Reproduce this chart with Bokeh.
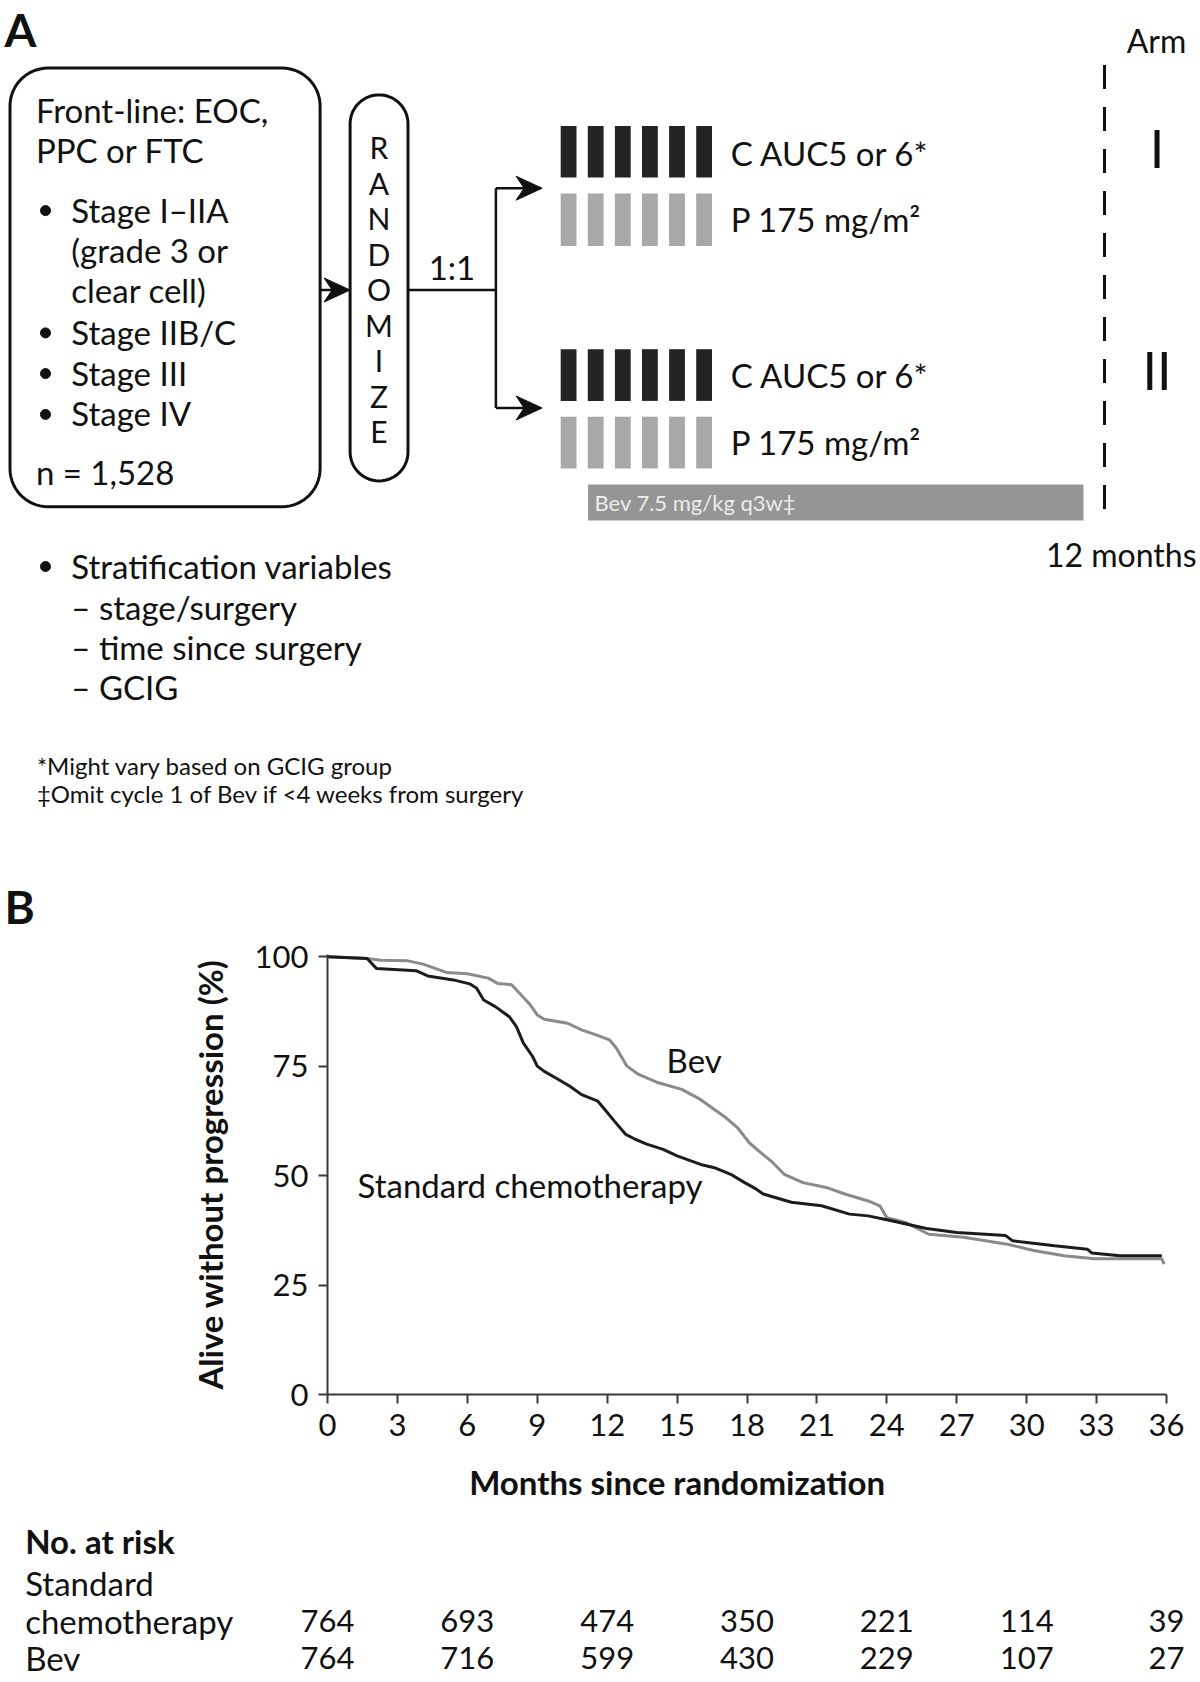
import numpy as np
from bokeh.plotting import figure
from bokeh.models import Range1d, FixedTicker
from bokeh.layouts import column
from bokeh.core.properties import value
from bokeh.embed import file_html
from bokeh.resources import INLINE

# ---------------- data ----------------
chemo_months = [0, 1.7, 2.1, 3.8, 4.3, 5.4, 6.1, 6.4, 6.7, 7.2, 7.8, 8.1, 8.4, 8.8, 9.0, 9.3,
                9.8, 10.4, 10.9, 11.6, 11.9, 12.3, 12.8, 13.2, 13.7, 14.4, 15.0, 16.1, 16.6,
                17.3, 17.9, 18.4, 18.7, 19.9, 21.2, 22.4, 23.2, 24.2, 25.7, 27.0, 29.1, 29.4,
                31.2, 32.6, 32.8, 34.0, 35.8]
chemo_pct = [100, 99.6, 97.3, 96.8, 95.6, 94.7, 93.8, 92.8, 90.1, 88.6, 86.3, 84.1, 80.3, 77.2,
             75.0, 73.8, 72.3, 70.4, 68.5, 67.0, 65.1, 62.5, 59.4, 58.3, 57.2, 56.0, 54.5, 52.4,
             51.8, 50.3, 48.4, 46.9, 45.8, 43.9, 43.1, 41.2, 40.8, 39.7, 37.9, 37.0, 36.3, 35.1,
             34.0, 33.2, 32.3, 31.7, 31.7]
bev_months = [0, 1.7, 2.3, 3.4, 4.1, 5.1, 6.0, 6.9, 7.3, 7.9, 8.3, 8.7, 9.0, 9.3, 10.3, 10.9,
              11.5, 12.1, 12.4, 12.85, 13.35, 14.2, 15.2, 16.0, 16.6, 17.1, 17.6, 18.1, 18.6,
              19.1, 19.6, 20.4, 21.4, 22.2, 23.2, 23.7, 24.0, 24.8, 25.8, 27.3, 29.1, 30.3,
              31.6, 32.9, 35.8, 35.9]
bev_pct = [100, 99.6, 99.2, 99.1, 98.3, 96.4, 96.1, 95.1, 93.9, 93.6, 91.3, 89.0, 86.7, 85.7,
           84.8, 83.3, 82.2, 81.0, 79.1, 75.0, 73.1, 71.2, 69.7, 67.4, 65.1, 63.2, 60.9, 57.5,
           55.2, 53.0, 50.3, 48.4, 47.3, 45.8, 44.2, 43.1, 40.4, 39.3, 36.6, 35.9, 34.4, 32.9,
           31.7, 31.0, 31.0, 29.8]
risk_months = [0, 6, 12, 18, 24, 30, 36]
risk_chemo = [764, 693, 474, 350, 221, 114, 39]
risk_bev = [764, 716, 599, 430, 229, 107, 27]
x_ticks = [0, 3, 6, 9, 12, 15, 18, 21, 24, 27, 30, 33, 36]
y_ticks = [0, 25, 50, 75, 100]

FONT = "Lato"
INK = "#111111"
W = 1200
HA, HB, HC = 935, 519, 226


def txt(p, x, y, s, size, align="left", style="normal", color=INK, baseline="middle"):
    p.text(x=[x], y=[y], text=[s], text_font=value(FONT), text_font_size=value(f"{size}px"),
           text_font_style=style, text_align=align, text_baseline=baseline, text_color=color)


def rrect(x0, y0, x1, y1, r, n=16):
    xs, ys = [], []
    for cx, cy, a0 in [(x1 - r, y0 + r, -90), (x1 - r, y1 - r, 0),
                       (x0 + r, y1 - r, 90), (x0 + r, y0 + r, 180)]:
        t = np.radians(np.linspace(a0, a0 + 90, n))
        xs.extend(cx + r * np.cos(t))
        ys.extend(cy + r * np.sin(t))
    return xs, ys


def head(p, tx, ty, L=26, h=12, notch=8):
    p.patch([tx, tx - L, tx - L + notch, tx - L], [ty, ty - h, ty, ty + h],
            fill_color=INK, line_color=INK, line_width=1)


# ---------------- panel A: schema ----------------
pA = figure(width=W, height=HA, x_range=Range1d(0, W), y_range=Range1d(HA, 0),
            x_axis_location=None, y_axis_location=None, toolbar_location=None,
            output_backend="svg", min_border=0, outline_line_color=None)
pA.grid.visible = False
pA.frame_align = False

txt(pA, 4, 29, "A", 46, style="bold")
txt(pA, 4, 906, "B", 46, style="bold")

bx, by = rrect(9.5, 67.6, 319.6, 506.2, 38)
pA.patch(bx, by, fill_color=None, line_color=INK, line_width=3)

box_lines = [("Front-line: EOC,", 35.4, 109.4, False), ("PPC or FTC", 35.4, 149.1, False),
             ("Stage I\u2013IIA", 70.8, 209.1, True), ("(grade 3 or", 70.8, 249.9, False),
             ("clear cell)", 70.8, 289.5, False), ("Stage IIB/C", 70.8, 331.4, True),
             ("Stage III", 70.8, 372.1, True), ("Stage IV", 70.8, 412.9, True),
             ("n = 1,528", 35.4, 471.9, False)]
for s, x, y, bullet in box_lines:
    txt(pA, x, y, s, 33)
    if bullet:
        pA.scatter([45], [y + 1], size=10, color=INK)

# arrow into RANDOMIZE
pA.line([319.6, 333], [289.5, 289.5], line_color=INK, line_width=2.5)
head(pA, 349.6, 289.5)

px_, py_ = rrect(349.6, 94.4, 407.5, 480.4, 28.9)
pA.patch(px_, py_, fill_color=None, line_color=INK, line_width=3)
for i, ch in enumerate("RANDOMIZE"):
    txt(pA, 378.5, 146.9 + 35.5 * i, ch, 30, align="center")

pA.line([407.5, 495.4], [289.5, 289.5], line_color=INK, line_width=2.5)
txt(pA, 451.5, 266, "1:1", 33, align="center")
pA.line([495.4, 495.4], [187.7, 407.5], line_color=INK, line_width=2.5)
for ya in (187.7, 407.5):
    pA.line([495.4, 526], [ya, ya], line_color=INK, line_width=2.5)
    head(pA, 541.6, ya)

lefts = [560.2 + 27.1 * i for i in range(6)]
rights = [l + 15.8 for l in lefts]
for top_b, bot_b, top_g, bot_g, yc, yp in [(125.5, 176.9, 193.0, 245.6, 152.0, 218.5),
                                           (348.7, 400.4, 416.2, 467.9, 374.5, 441.0)]:
    pA.quad(left=lefts, right=rights, top=[top_b] * 6, bottom=[bot_b] * 6,
            fill_color="#232323", line_color=None)
    pA.quad(left=lefts, right=rights, top=[top_g] * 6, bottom=[bot_g] * 6,
            fill_color="#a8a8a8", line_color=None)
    txt(pA, 730.2, yc, "C AUC5 or 6*", 33)
    txt(pA, 730.2, yp, "P 175 mg/m\u00b2", 33)

pA.quad(left=[587.6], right=[1083], top=[484], bottom=[520], fill_color="#959595", line_color=None)
txt(pA, 594, 502, "Bev 7.5 mg/kg q3w\u2021", 22, color="#ececec")

pA.line([1104, 1104], [64.6, 524], line_color=INK, line_width=3, line_dash="24 18")
txt(pA, 1156, 40, "Arm", 32, align="center")
txt(pA, 1156.6, 147.6, "I", 52, align="center")
txt(pA, 1156.6, 369, "II", 52, align="center")
txt(pA, 1196, 553.5, "12 months", 32, align="right")

pA.scatter([45], [566], size=10, color=INK)
for s, y in [("Stratification variables", 565), ("\u2013 stage/surgery", 606.7),
             ("\u2013 time since surgery", 646), ("\u2013 GCIG", 686.7)]:
    txt(pA, 70.8, y, s, 33)
txt(pA, 36.4, 765, "*Might vary based on GCIG group", 24)
txt(pA, 36.4, 793.3, "\u2021Omit cycle 1 of Bev if <4 weeks from surgery", 24)

# ---------------- panel B: Kaplan-Meier ----------------
ML, MR = 327, 34
pB = figure(width=W, height=HB, x_range=Range1d(0, 36), y_range=Range1d(0, 100.5),
            toolbar_location=None, output_backend="svg",
            min_border_left=ML, min_border_right=MR, min_border_top=19, min_border_bottom=60,
            outline_line_color=None)
pB.grid.visible = False
pB.frame_align = False
pB.xaxis.ticker = FixedTicker(ticks=x_ticks)
pB.yaxis.ticker = FixedTicker(ticks=y_ticks)
for ax in (pB.xaxis[0], pB.yaxis[0]):
    ax.axis_line_color = "#3a3a3a"
    ax.axis_line_width = 2
    ax.major_tick_line_color = "#3a3a3a"
    ax.major_tick_line_width = 2
    ax.major_tick_out = 9
    ax.major_tick_in = 0
    ax.minor_tick_line_color = None
    ax.major_label_standoff = 10
    ax.major_label_text_font = FONT
    ax.major_label_text_font_size = "31px"
    ax.major_label_text_color = INK
    ax.axis_label_text_font = FONT
    ax.axis_label_text_font_size = "33px"
    ax.axis_label_text_font_style = "bold"
    ax.axis_label_text_color = INK
pB.yaxis.axis_label = "Alive without progression (%)"
pB.yaxis.axis_label_standoff = 22

pB.line(bev_months, bev_pct, line_color="#8a8a8a", line_width=3)
pB.line(chemo_months, chemo_pct, line_color="#1c1c1c", line_width=3)
txt(pB, 14.55, 76.3, "Bev", 33)
txt(pB, 1.29, 47.9, "Standard chemotherapy", 33)

# ---------------- x title + numbers at risk (same month scale as panel B) ----------------
ppm = (W - ML - MR) / 36.0
xc0 = -ML / ppm
xc1 = 36 + MR / ppm
pC = figure(width=W, height=HC, x_range=Range1d(xc0, xc1), y_range=Range1d(HC, 0),
            x_axis_location=None, y_axis_location=None, toolbar_location=None,
            output_backend="svg", min_border=0, outline_line_color=None)
pC.grid.visible = False
pC.frame_align = False
txt(pC, 15.0, 27, "Months since randomization", 33, align="center", style="bold")
xlab = xc0 + 24.7 / ppm
txt(pC, xlab, 86, "No. at risk", 33, style="bold")
txt(pC, xlab, 128, "Standard", 33)
txt(pC, xlab, 166, "chemotherapy", 33)
txt(pC, xlab, 203, "Bev", 33)
for vals, yr in [(risk_chemo, 166), (risk_bev, 203)]:
    pC.text(x=risk_months, y=[yr] * len(vals), text=[str(v) for v in vals],
            text_font=value(FONT), text_font_size=value("31px"), text_align="center",
            text_baseline="middle", text_color=INK)

layout = column(pA, pB, pC, spacing=0)
open("out.html", "w").write(file_html(layout, INLINE))
